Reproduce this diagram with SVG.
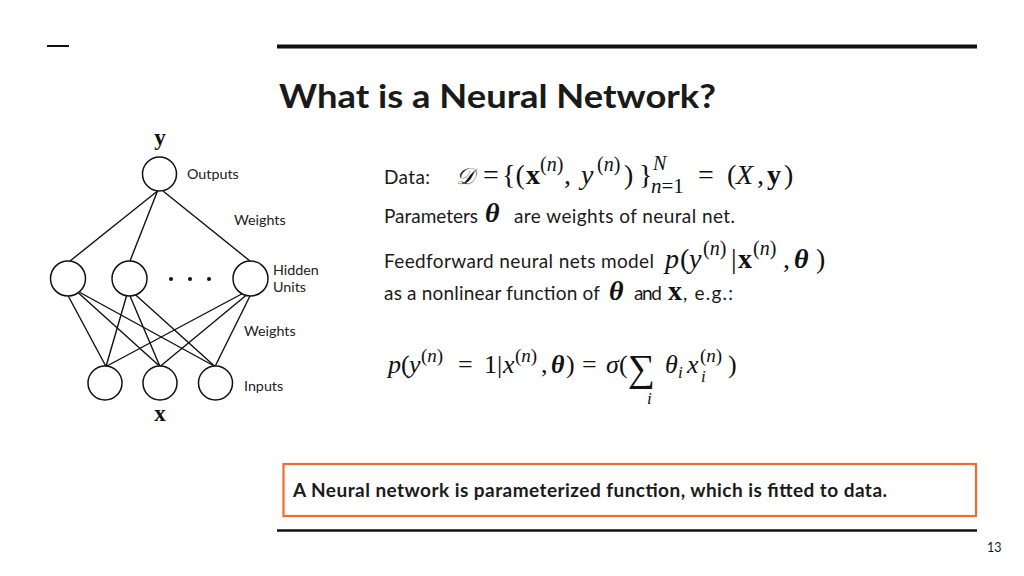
<svg xmlns="http://www.w3.org/2000/svg" width="1024" height="576" viewBox="0 0 1024 576">
<style>
.t{font-family:Lato,"Open Sans",sans-serif;fill:#1a1a1a}
.lbl{font-family:Lato,"Open Sans",sans-serif;font-size:14.3px;fill:#222}
.m{font-family:"Liberation Serif","Times New Roman",serif;fill:#111}
.i{font-style:italic}
.b{font-weight:bold}
.node{fill:#fff;stroke:#111;stroke-width:1.5}
.edge{stroke:#111;stroke-width:1.4;fill:none}
</style>
<rect width="1024" height="576" fill="#fff"/>
<line x1="47" y1="46" x2="69" y2="46" stroke="#111" stroke-width="2"/>
<line x1="277" y1="46.5" x2="977" y2="46.5" stroke="#111" stroke-width="4"/>
<text class="t b" x="279" y="108" font-size="33" textLength="437" lengthAdjust="spacingAndGlyphs">What is a Neural Network?</text>

<g id="connectors">
<line class="edge" x1="157.5" y1="191" x2="70" y2="261"/>
<line class="edge" x1="157.5" y1="191" x2="130" y2="261"/>
<line class="edge" x1="163" y1="191" x2="250" y2="261"/>
<line class="edge" x1="68.5" y1="296.5" x2="106" y2="366.5"/>
<line class="edge" x1="78.5" y1="293" x2="160" y2="366.5"/>
<line class="edge" x1="80" y1="292.5" x2="215" y2="366.5"/>
<line class="edge" x1="126.5" y1="296" x2="106" y2="366.5"/>
<line class="edge" x1="130" y1="296" x2="160" y2="366.5"/>
<line class="edge" x1="133.5" y1="293" x2="215" y2="366.5"/>
<line class="edge" x1="243.5" y1="293" x2="106" y2="366.5"/>
<line class="edge" x1="246.5" y1="295" x2="160" y2="366.5"/>
<line class="edge" x1="250" y1="296" x2="215" y2="366.5"/>
</g>
<g id="output"><circle class="node" cx="159.5" cy="174" r="17"/></g>
<g id="hidden1"><circle class="node" cx="68" cy="278.5" r="17.5"/></g>
<g id="hidden2"><circle class="node" cx="129.5" cy="278.5" r="17.5"/></g>
<g id="hidden3"><circle class="node" cx="250.5" cy="278.5" r="17.5"/></g>
<g id="input1"><circle class="node" cx="105" cy="383" r="17"/></g>
<g id="input2"><circle class="node" cx="160" cy="383" r="17"/></g>
<g id="input3"><circle class="node" cx="215.5" cy="383" r="17"/></g>
<g id="dots" fill="#111"><circle cx="171" cy="279" r="2"/><circle cx="190" cy="279" r="2"/><circle cx="209" cy="279" r="2"/></g>
<text class="m b" x="160" y="145" font-size="23" text-anchor="middle">y</text>
<text class="m b" x="160" y="421" font-size="23" text-anchor="middle">x</text>
<text class="lbl" x="187" y="179">Outputs</text>
<text class="lbl" x="234" y="225">Weights</text>
<text class="lbl" x="273" y="275">Hidden</text>
<text class="lbl" x="273" y="292">Units</text>
<text class="lbl" x="244" y="336">Weights</text>
<text class="lbl" x="244" y="391">Inputs</text>

<g font-size="19">
<text class="t" x="384" y="184" textLength="46">Data:</text>
<text class="t" x="384" y="223" textLength="94">Parameters</text>
<text class="t" x="514" y="223" textLength="221">are weights of neural net.</text>
<text class="t" x="384" y="268" textLength="270">Feedforward neural nets model</text>
<text class="t" x="384" y="300" textLength="216">as a nonlinear function of</text>
<text class="t" x="634" y="300" textLength="28">and</text>
<text class="t" x="683" y="300" textLength="50">, e.g.:</text>
</g>

<g id="eq1" class="m" font-size="28">
<text x="456" y="184" font-size="23" class="i">𝒟</text>
<text x="483" y="184">=</text>
<text x="502" y="184">{(</text>
<text x="526" y="184" class="b">x</text>
<text x="540" y="171" font-size="20">(<tspan class="i">n</tspan>)</text>
<text x="564" y="184">,</text>
<text x="581" y="184" class="i">y</text>
<text x="597" y="171" font-size="20">(<tspan class="i">n</tspan>)</text>
<text x="624" y="184">)</text>
<text x="639" y="184">}</text>
<text x="653" y="170" font-size="20" class="i">N</text>
<text x="651" y="193" font-size="21"><tspan class="i">n</tspan>=1</text>
<text x="698" y="184">=</text>
<text x="727" y="184">(</text>
<text x="736" y="184" class="i">X</text>
<text x="757" y="184">,</text>
<text x="767" y="184" class="b">y</text>
<text x="784" y="184">)</text>
</g>

<text class="m b i" x="485" y="222" font-size="28">θ</text>

<g id="eq2" class="m" font-size="28">
<text x="665" y="268" class="i">p</text>
<text x="680" y="268">(</text>
<text x="689" y="268" class="i">y</text>
<text x="703" y="255" font-size="20">(<tspan class="i">n</tspan>)</text>
<text x="731" y="268">|</text>
<text x="738" y="268" class="b">x</text>
<text x="753" y="255" font-size="20">(<tspan class="i">n</tspan>)</text>
<text x="783" y="268">,</text>
<text x="794" y="268" class="b i">θ</text>
<text x="816" y="268">)</text>
</g>

<text class="m b i" x="609" y="300" font-size="28">θ</text>
<text class="m b" x="668" y="300" font-size="28">x</text>

<g id="eq3" class="m" font-size="26">
<text x="388" y="373" class="i">p</text>
<text x="401" y="373">(</text>
<text x="409" y="373" class="i">y</text>
<text x="421" y="362" font-size="19">(<tspan class="i">n</tspan>)</text>
<text x="458" y="373">=</text>
<text x="484" y="373">1</text>
<text x="497" y="373">|</text>
<text x="503" y="373" class="i">x</text>
<text x="515" y="362" font-size="19">(<tspan class="i">n</tspan>)</text>
<text x="541" y="373">,</text>
<text x="551" y="373" class="b i">θ</text>
<text x="566" y="373">)</text>
<text x="582" y="373">=</text>
<text x="606" y="373" class="i">σ</text>
<text x="619" y="373">(</text>
<text x="628" y="381" font-size="38">∑</text>
<text x="647" y="404" font-size="17" class="i">i</text>
<text x="665" y="373" class="i">θ</text>
<text x="678" y="378" font-size="17" class="i">i</text>
<text x="687" y="373" class="i">x</text>
<text x="700" y="362" font-size="19">(<tspan class="i">n</tspan>)</text>
<text x="701" y="382" font-size="17" class="i">i</text>
<text x="728" y="373">)</text>
</g>

<g id="note">
<rect x="283.5" y="464" width="692.5" height="52" fill="#fff" stroke="#f26a30" stroke-width="2.2"/>
<text class="t b" x="293" y="497" font-size="19" textLength="594">A Neural network is parameterized function, which is fitted to data.</text>
</g>
<line x1="277" y1="530.5" x2="977" y2="530.5" stroke="#111" stroke-width="2.5"/>
<text class="t" x="987" y="552" font-size="12.5">13</text>
</svg>
